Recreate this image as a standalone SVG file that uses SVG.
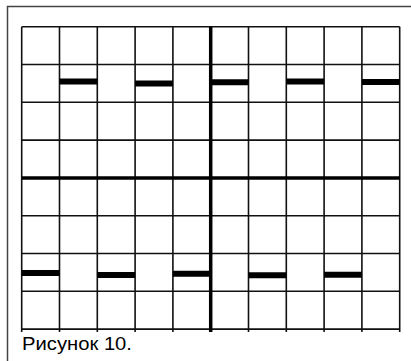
<svg xmlns="http://www.w3.org/2000/svg" width="411" height="361" viewBox="0 0 411 361">
<style>
.frame{fill:none;stroke:#444;stroke-width:1.5}
.grid{stroke:#111;stroke-width:1.6;fill:none}
.axis{stroke:#000;stroke-width:3.5}
.bar{stroke:#000;stroke-width:6}
.cap{font-family:"Liberation Sans",Arial,sans-serif;font-size:18.5px;fill:#000}
</style>
<rect width="411" height="361" fill="#fff"/>
<rect id="frame" class="frame" x="7.5" y="6.5" width="410" height="360"/>
<g id="grid" class="grid">
<path d="M21.7 26.7V332M59.5 26.7V332M97.3 26.7V332M135.1 26.7V332M172.9 26.7V332M248.5 26.7V332M286.3 26.7V332M324.1 26.7V332M361.9 26.7V332M399.7 26.7V332"/>
<path d="M21.7 26.7H399.7M21.7 64.5H399.7M21.7 102.3H399.7M21.7 140.1H399.7M21.7 215.7H399.7M21.7 253.5H399.7M21.7 291.3H399.7M21.7 329.1H399.7"/>
</g>
<g id="axes" class="axis">
<line x1="210.7" y1="26.7" x2="210.7" y2="332"/>
<line x1="21.7" y1="177.9" x2="399.7" y2="177.9"/>
</g>
<g id="bars" class="bar">
<line x1="59.5" y1="81.5" x2="97.3" y2="81.5"/>
<line x1="135.1" y1="83.5" x2="172.9" y2="83.5"/>
<line x1="210.7" y1="82.3" x2="248.5" y2="82.3"/>
<line x1="286.3" y1="81.5" x2="324.1" y2="81.5"/>
<line x1="361.9" y1="82" x2="399.7" y2="82"/>
<line x1="21.7" y1="273" x2="59.5" y2="273"/>
<line x1="97.3" y1="275" x2="135.1" y2="275"/>
<line x1="172.9" y1="273.7" x2="210.7" y2="273.7"/>
<line x1="248.5" y1="275.3" x2="286.3" y2="275.3"/>
<line x1="324.1" y1="274.7" x2="361.9" y2="274.7"/>
</g>
<text id="caption" class="cap" x="22" y="350" textLength="110" lengthAdjust="spacingAndGlyphs">Рисунок 10.</text>
</svg>
